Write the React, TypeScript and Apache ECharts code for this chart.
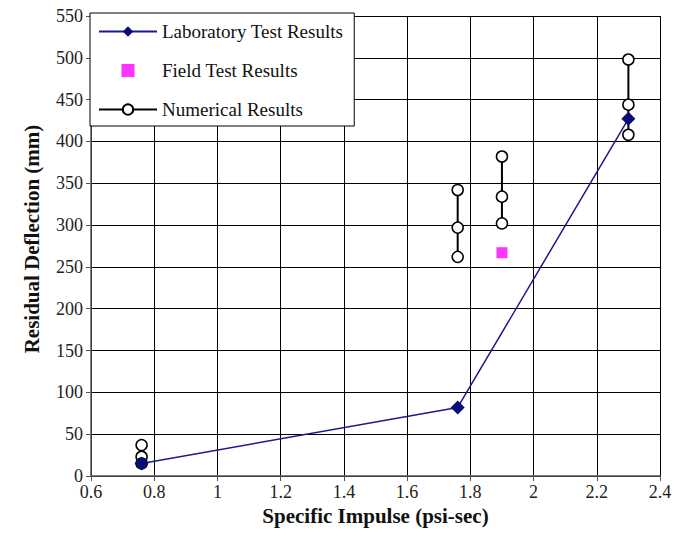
import React, { useEffect, useRef } from "react";
import * as echarts from "echarts";

const labX = [0.76, 1.76, 2.3];
const labY = [15, 82, 427];
const fieldX = [1.9];
const fieldY = [267];
const numGroupX = [0.76, 1.76, 1.9, 2.3];
const numGroupY = [
  [37, 23, 15],
  [342, 297, 262],
  [382, 334, 302],
  [498, 444, 408],
];
const xTicks = { min: 0.6, max: 2.4, interval: 0.2 };
const yTicks = { min: 0, max: 550, interval: 50 };

const FONT = "'Liberation Serif', 'Times New Roman', serif";

export default function App() {
  const ref = useRef<HTMLDivElement>(null);
  useEffect(() => {
    const chart = echarts.init(ref.current!, null, { renderer: "svg" });
    const numSeries = numGroupX.map((x, i) => ({
      name: "Numerical Results",
      type: "line",
      data: numGroupY[i].map((y) => [x, y]),
      symbol: "circle",
      symbolSize: 11,
      lineStyle: { color: "#000", width: 2 },
      itemStyle: { color: "#fff", borderColor: "#000", borderWidth: 1.5 },
      z: 3,
    }));
    chart.setOption({
      animation: false,
      textStyle: { fontFamily: FONT },
      grid: { left: 91, right: 25, top: 16, bottom: 60 },
      legend: {
        orient: "vertical",
        left: 90,
        top: 13,
        padding: [9, 11, 7, 8],
        itemGap: 20,
        itemWidth: 58,
        itemHeight: 13,
        backgroundColor: "#fff",
        borderColor: "#000",
        borderWidth: 1,
        textStyle: { fontFamily: FONT, fontSize: 19, color: "#111" },
        data: [
          "Laboratory Test Results",
          { name: "Field Test Results", icon: "path://M0,0L10,0L10,10L0,10Z" },
          "Numerical Results",
        ],
      },
      xAxis: {
        type: "value",
        ...xTicks,
        name: "Specific Impulse (psi-sec)",
        nameLocation: "middle",
        nameGap: 28,
        nameTextStyle: { fontFamily: FONT, fontSize: 21, fontWeight: "bold", color: "#111" },
        axisLine: { show: true, lineStyle: { color: "#555", width: 1.5 } },
        axisTick: { show: true, length: 5, lineStyle: { color: "#555" } },
        axisLabel: {
          fontFamily: FONT,
          fontSize: 18,
          color: "#222",
          margin: 7,
          formatter: (v: number) => String(Math.round(v * 10) / 10),
        },
        splitLine: { show: true, lineStyle: { color: "#000", width: 1 } },
      },
      yAxis: {
        type: "value",
        ...yTicks,
        name: "Residual Deflection (mm)",
        nameLocation: "middle",
        nameGap: 49,
        nameTextStyle: {
          fontFamily: FONT,
          fontSize: 21,
          fontWeight: "bold",
          color: "#111",
          padding: [0, 0, 0, 14],
        },
        axisLine: { show: true, lineStyle: { color: "#555", width: 1.5 } },
        axisTick: { show: true, length: 5, lineStyle: { color: "#555" } },
        axisLabel: { fontFamily: FONT, fontSize: 18, color: "#222", margin: 8 },
        splitLine: { show: true, lineStyle: { color: "#000", width: 1 } },
      },
      series: [
        {
          name: "Laboratory Test Results",
          type: "line",
          data: labX.map((x, i) => [x, labY[i]]),
          symbol: "diamond",
          symbolSize: 14,
          lineStyle: { color: "#1a1a8c", width: 1.5 },
          itemStyle: { color: "#0a0a7a" },
          z: 4,
        },
        {
          name: "Field Test Results",
          type: "scatter",
          data: fieldX.map((x, i) => [x, fieldY[i]]),
          symbol: "rect",
          symbolSize: 11,
          itemStyle: { color: "#ff00ff" },
          z: 4,
        },
        ...numSeries,
      ],
    });
    return () => chart.dispose();
  }, []);
  return <div ref={ref} style={{ width: 685, height: 536, margin: -8 }} />;
}
